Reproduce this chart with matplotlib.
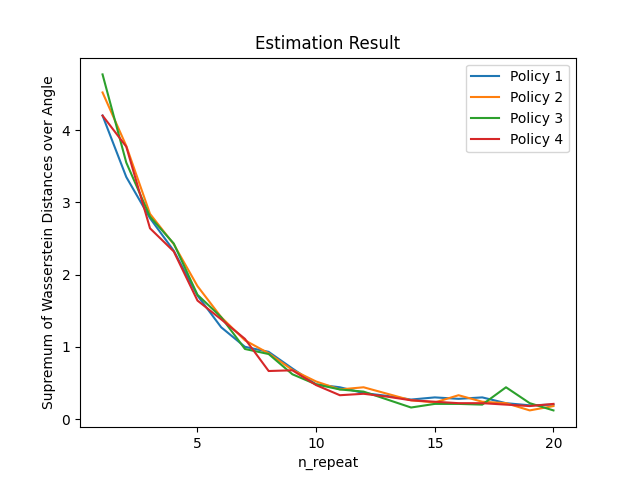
import matplotlib
matplotlib.use("Agg")
import matplotlib.pyplot as plt

n_repeat = list(range(1, 21))
policy1 = [4.20, 3.35, 2.78, 2.33, 1.71, 1.27, 1.00, 0.93, 0.70, 0.48,
           0.44, 0.36, 0.32, 0.27, 0.30, 0.28, 0.30, 0.22, 0.19, 0.20]
policy2 = [4.52, 3.78, 2.84, 2.42, 1.84, 1.41, 1.09, 0.91, 0.68, 0.52,
           0.41, 0.44, 0.35, 0.26, 0.23, 0.33, 0.24, 0.22, 0.12, 0.18]
policy3 = [4.77, 3.55, 2.80, 2.43, 1.72, 1.41, 0.97, 0.90, 0.62, 0.48,
           0.41, 0.38, 0.27, 0.16, 0.21, 0.21, 0.20, 0.44, 0.22, 0.12]
policy4 = [4.20, 3.77, 2.64, 2.32, 1.64, 1.38, 1.11, 0.665, 0.675, 0.47,
           0.33, 0.35, 0.31, 0.26, 0.24, 0.22, 0.22, 0.20, 0.18, 0.21]
labels = ["Policy 1", "Policy 2", "Policy 3", "Policy 4"]

fig, ax = plt.subplots(figsize=(6.4, 4.8), dpi=100)
for vals, lab in zip([policy1, policy2, policy3, policy4], labels):
    ax.plot(n_repeat, vals, label=lab)
ax.set_title("Estimation Result")
ax.set_xlabel("n_repeat")
ax.set_ylabel("Supremum of Wasserstein Distances over Angle")
ax.set_xticks([5, 10, 15, 20])
ax.set_yticks([0, 1, 2, 3, 4])
ax.legend(loc="upper right")
fig.savefig("out.png")
